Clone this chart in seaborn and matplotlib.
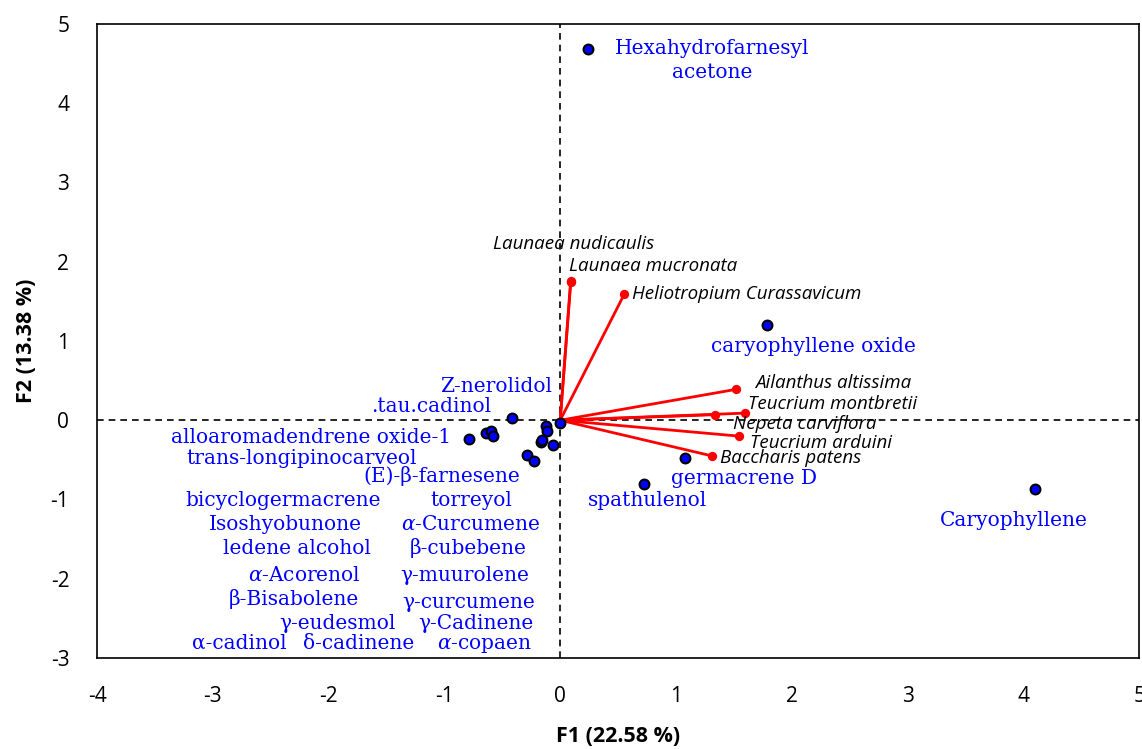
import numpy as np
import pandas as pd
import matplotlib
matplotlib.use("Agg")
import matplotlib.pyplot as plt
import seaborn as sns

sns.set_style("white")
plt.rcParams['font.family'] = ['Open Sans', 'DejaVu Sans']
plt.rcParams['mathtext.fontset'] = 'dejavuserif'
plt.rcParams['axes.unicode_minus'] = False

# --- observation scores (compounds) ---
obs_f1 = [0.24, 1.79, 1.08, 0.72, 4.10,
          -0.42, -0.79, -0.64, -0.60, -0.58, -0.12, -0.115, 0.0,
          -0.17, -0.16, -0.06, -0.29, -0.23]
obs_f2 = [4.68, 1.20, -0.48, -0.80, -0.87,
          0.03, -0.24, -0.16, -0.14, -0.20, -0.07, -0.14, -0.04,
          -0.27, -0.25, -0.31, -0.44, -0.52]

# --- compound labels and where they are written ---
comp_labels = ["Hexahydrofarnesyl\nacetone", "caryophyllene oxide", "germacrene D",
               "spathulenol", "Caryophyllene", "Z-nerolidol", ".tau.cadinol",
               "alloaromadendrene oxide-1", "trans-longipinocarveol",
               "(E)-β-farnesene", "bicyclogermacrene", "torreyol", "Isoshyobunone",
               r"$\alpha$-Curcumene", "ledene alcohol", "β-cubebene",
               r"$\alpha$-Acorenol", "γ-muurolene", "β-Bisabolene", "γ-curcumene",
               "γ-eudesmol", "γ-Cadinene", "α-cadinol", "δ-cadinene",
               r"$\alpha$-copaen"]
label_x = [1.31, 2.19, 1.59, 0.75, 3.92, -0.557, -1.114, -2.156, -2.233,
           -1.019, -2.393, -0.769, -2.371, -0.769, -2.276, -0.799, -2.207,
           -0.829, -2.302, -0.795, -1.922, -0.726, -2.773, -1.741, -0.657]
label_y = [4.54, 0.93, -0.73, -1.01, -1.26, 0.43, 0.177, -0.215, -0.48,
           -0.707, -1.01, -1.01, -1.31, -1.31, -1.615, -1.615, -1.956,
           -1.956, -2.259, -2.297, -2.562, -2.562, -2.814, -2.814, -2.839]

# --- variable loadings (plant species) ---
species = ["Launaea nudicaulis", "Launaea mucronata", "Heliotropium Curassavicum",
           "Ailanthus altissima", "Teucrium montbretii", "Nepeta carviflora",
           "Teucrium arduini", "Baccharis patens"]
var_f1 = [0.09, 0.092, 0.553, 1.52, 1.60, 1.34, 1.54, 1.31]
var_f2 = [1.76, 1.75, 1.59, 0.39, 0.09, 0.07, -0.20, -0.45]
sp_label_x = [-0.58, 0.08, 0.62, 1.68, 1.62, 1.49, 1.64, 1.38]
sp_label_y = [2.22, 1.94, 1.59, 0.47, 0.20, -0.05, -0.29, -0.48]

obs = pd.DataFrame({"F1": obs_f1, "F2": obs_f2})
var = pd.DataFrame({"F1": var_f1, "F2": var_f2, "name": species})

fig = plt.figure(figsize=(11.42, 7.49), dpi=100)
ax = fig.add_axes([0.085, 0.1215, 0.9125, 0.8465])

ax.axhline(0, color="black", lw=1.2, ls=(0, (4, 3)), zorder=1)
ax.axvline(0, color="black", lw=1.2, ls=(0, (4, 3)), zorder=1)

# vectors from origin
for x, y in zip(var["F1"], var["F2"]):
    ax.plot([0, x], [0, y], color="red", lw=2, zorder=2)
sns.scatterplot(data=var, x="F1", y="F2", color="red", s=45, edgecolor="red",
                linewidth=0, zorder=3, ax=ax)

sns.scatterplot(data=obs, x="F1", y="F2", color="blue", s=50, edgecolor="black",
                linewidth=1.5, zorder=4, ax=ax)

for lab, x, y in zip(comp_labels, label_x, label_y):
    ax.text(x, y, lab, color="blue", fontsize=14.5, family="DejaVu Serif",
            ha="center", va="center", linespacing=1.3, zorder=5)

for lab, x, y in zip(species, sp_label_x, sp_label_y):
    ax.text(x, y, lab, color="black", fontsize=13.5, style="italic",
            ha="left", va="center", zorder=5)

ax.set_xlim(-4, 5)
ax.set_ylim(-3, 5)
ax.set_xticks(range(-4, 6))
ax.set_yticks(range(-3, 6))
ax.tick_params(length=0, labelsize=15, pad=20, labelcolor="black")
for s in ax.spines.values():
    s.set_color("black")
    s.set_linewidth(1.2)
ax.set_xlabel("F1 (22.58 %)", fontsize=15.5, fontweight="bold", labelpad=14,
              color="black")
ax.set_ylabel("F2 (13.38 %)", fontsize=15.5, fontweight="bold", labelpad=10,
              color="black")

fig.savefig("out.png", dpi=100)
